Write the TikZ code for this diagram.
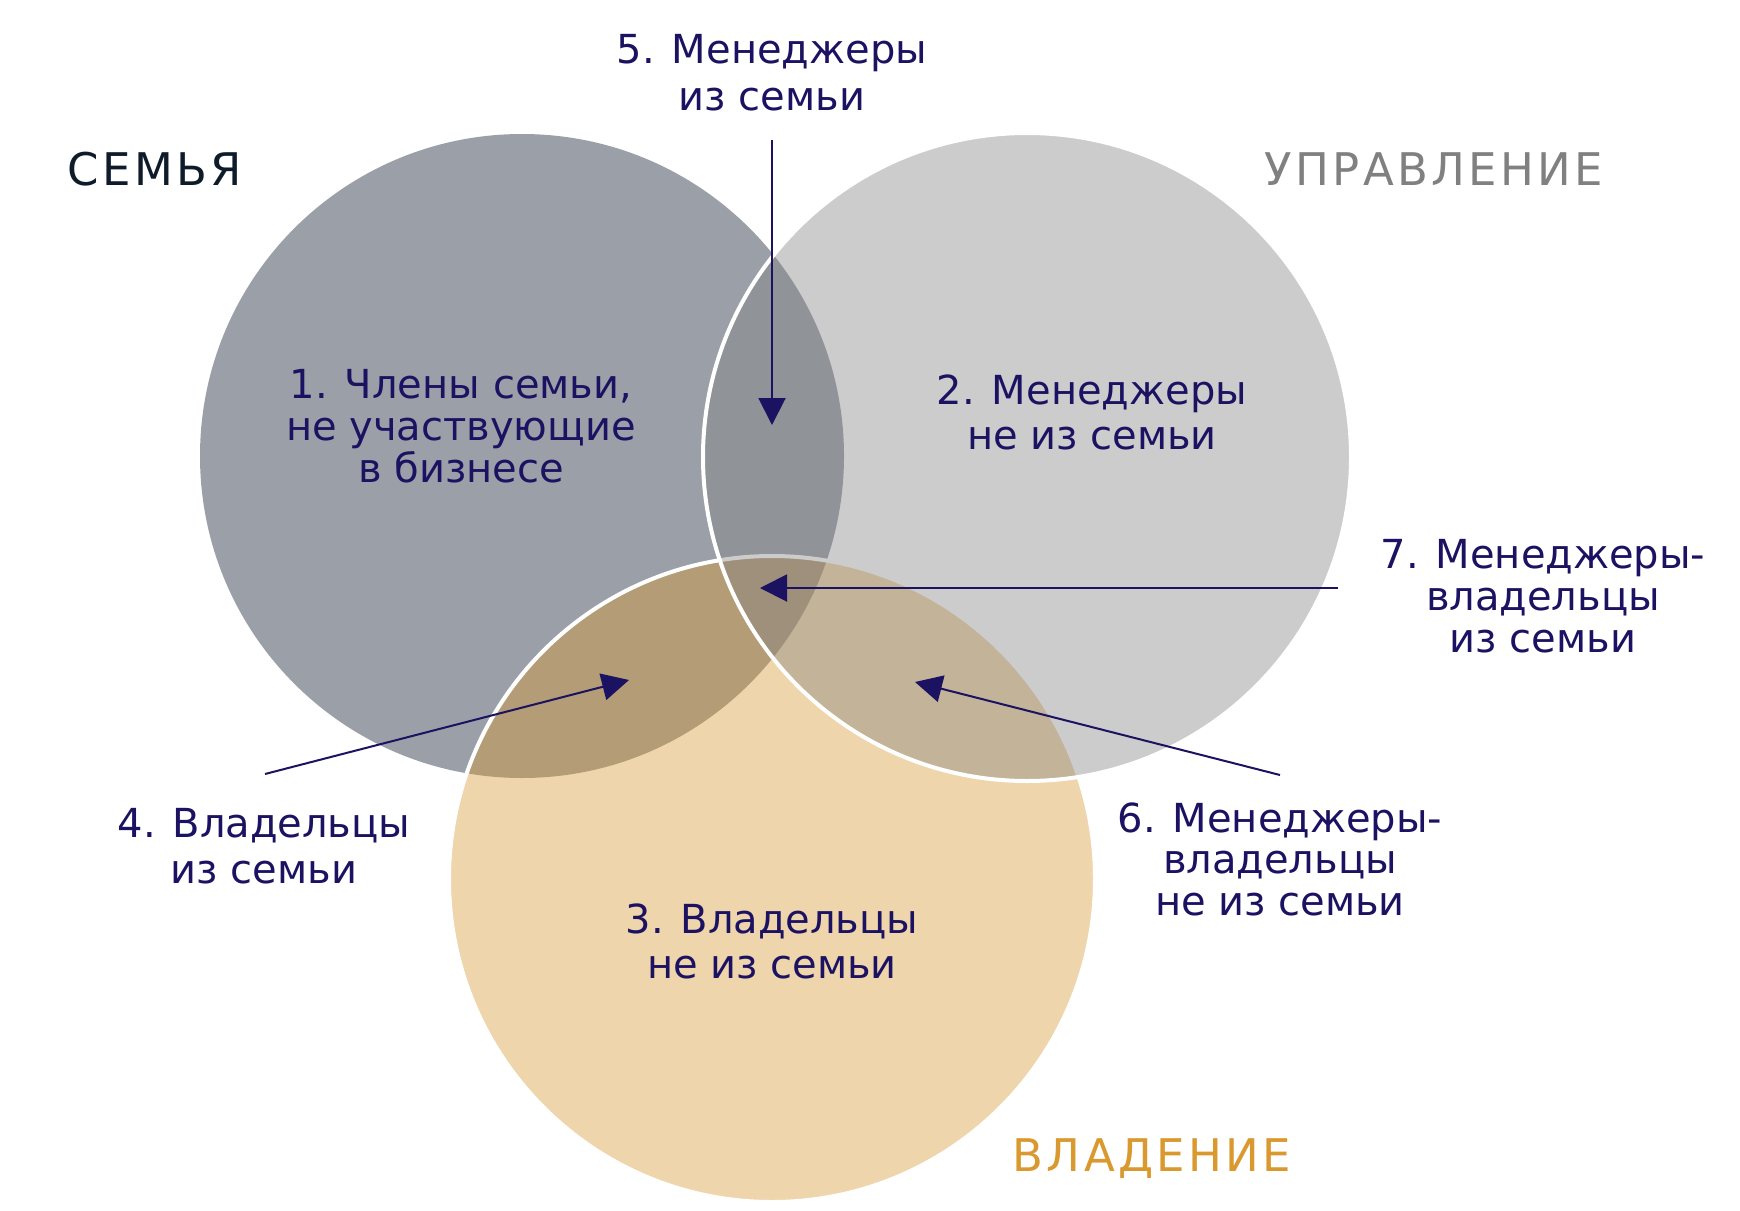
\documentclass[tikz,border=0pt]{standalone}
\usepackage{fontspec}
\setmainfont{DejaVu Sans}
\newfontfamily\titlefont[LetterSpace=7.5]{DejaVu Sans}
\usetikzlibrary{arrows.meta}
\definecolor{navy}{RGB}{28,18,98}
\definecolor{famc}{RGB}{5,18,38}
\definecolor{mgmc}{RGB}{128,128,128}
\definecolor{ownc}{RGB}{217,152,45}
\definecolor{famtitle}{RGB}{13,27,42}
\definecolor{mgmtitle}{RGB}{128,128,128}
\definecolor{owntitle}{RGB}{218,153,46}
\tikzset{
  circ/.style={fill opacity=0.4, draw=white, draw opacity=1, line width=4pt},
  lbl/.style={font=\fontsize{40}{#1}\selectfont, text=navy, align=center, inner sep=0pt, anchor=base},
  lbl/.default=42,
  ttl/.style={font=\titlefont\fontsize{45}{50}\selectfont, inner sep=0pt, anchor=base},
  arr/.style={draw=navy, line width=2pt, -{Triangle[length=27pt,width=27pt]}},
}
\begin{document}
\begin{tikzpicture}[x=1pt,y=-1pt]
\useasboundingbox (0,0) rectangle (1740,1210);
\fill[white] (0,0) rectangle (1740,1210);
% circles
\path[circ, fill=famc, draw=none] (522,456) circle[radius=322];
\path[circ, fill=ownc] (772,879) circle[radius=323];
\path[circ, fill=mgmc] (1027,457) circle[radius=324];
% titles
\node[ttl, text=famtitle] (tfam) at (155,185) {СЕМЬЯ};
\node[ttl, text=mgmtitle] (tmgm) at (1434,185) {УПРАВЛЕНИЕ};
\node[ttl, text=owntitle] (town) at (1152,1171) {ВЛАДЕНИЕ};
% labels (anchored at the baseline of the last line)
\node[lbl=42] (l1) at (461,482) {1. Члены семьи,\\не участвующие\\в бизнесе};
\node[lbl=45] (l2) at (1092,449) {2. Менеджеры\\не из семьи};
\node[lbl=45] (l3) at (772,978) {3. Владельцы\\не из семьи};
\node[lbl=46] (l4) at (264,883) {4. Владельцы\\из семьи};
\node[lbl=47] (l5) at (772,110) {5. Менеджеры\\из семьи};
\node[lbl=41.5] (l6) at (1280,915) {6. Менеджеры-\\владельцы\\не из семьи};
\node[lbl=42] (l7) at (1543,652) {7. Менеджеры-\\владельцы\\из семьи};
% arrow end points
\coordinate (a5s) at (772,140);
\coordinate (a5t) at (772,425);
\coordinate (a7s) at (1338,588);
\coordinate (a7t) at (760,588);
\coordinate (a4s) at (265,774);
\coordinate (a4t) at (629,680);
\coordinate (a6s) at (1280,775);
\coordinate (a6t) at (915,682);
\draw[arr] (a5s) -- (a5t);
\draw[arr] (a7s) -- (a7t);
\draw[arr] (a4s) -- (a4t);
\draw[arr] (a6s) -- (a6t);
\end{tikzpicture}
\end{document}
